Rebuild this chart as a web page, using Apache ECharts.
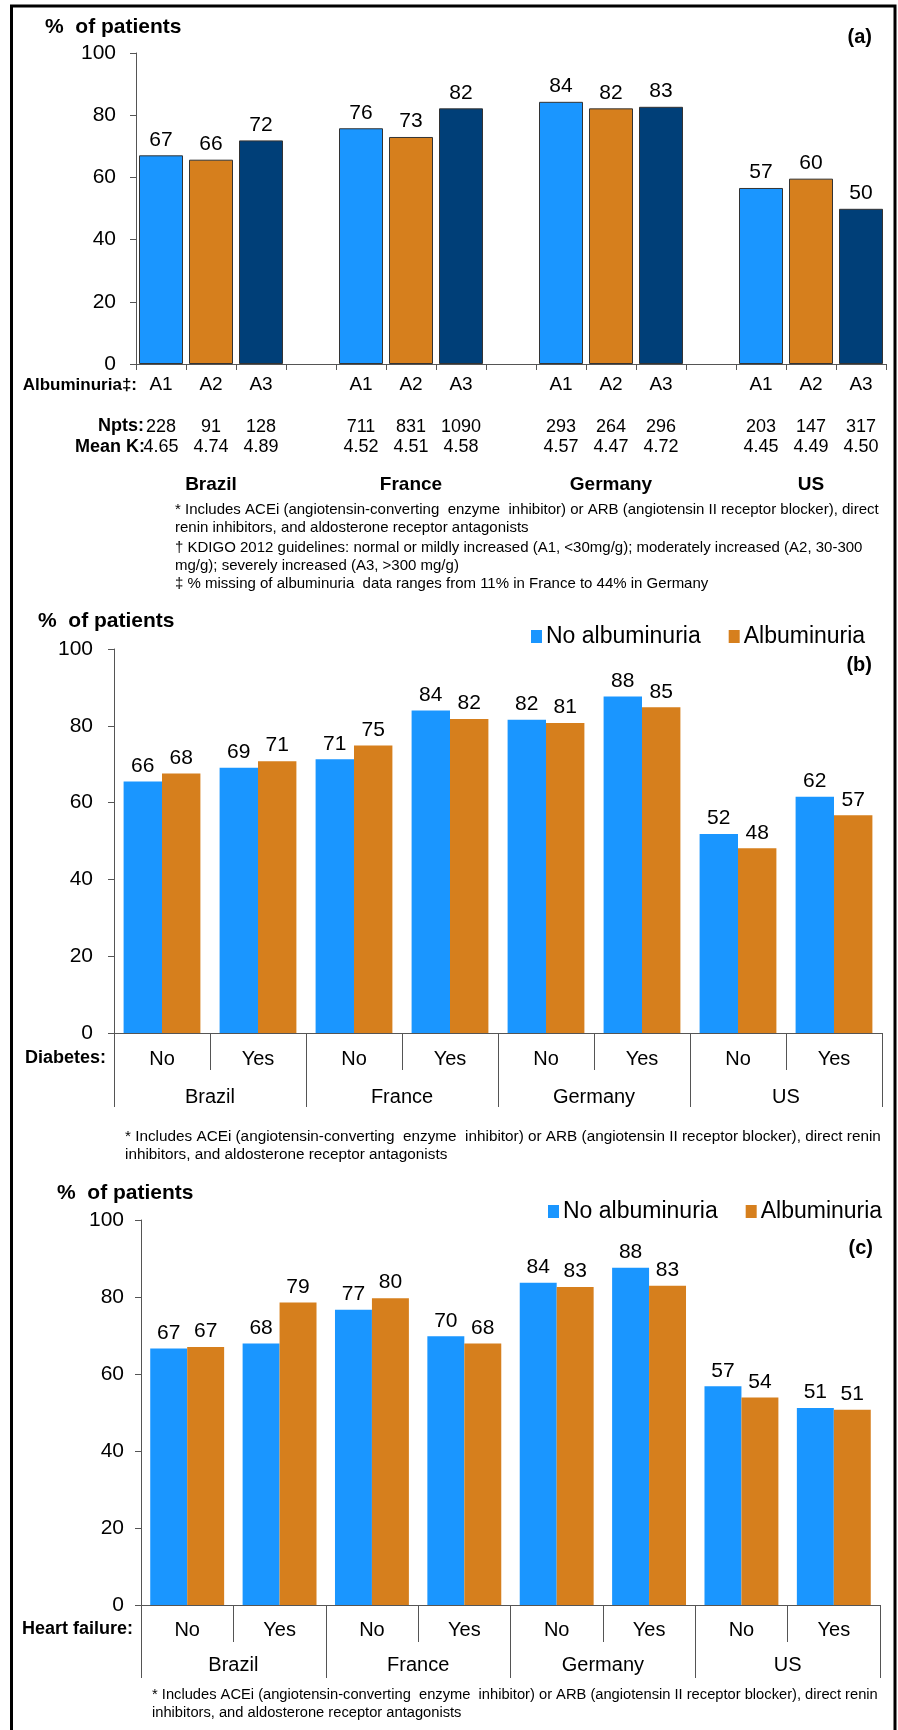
<!DOCTYPE html>
<html>
<head>
<meta charset="utf-8">
<script src="https://cdn.jsdelivr.net/npm/echarts@6/dist/echarts.min.js"></script>
<style>
html,body{margin:0;padding:0;background:#fff;}
#chart{width:898px;height:1730px;}
</style>
</head>
<body>
<div id="chart"></div>
<script>
// ---------- DATA ----------
const countries = ['Brazil', 'France', 'Germany', 'US'];
// Panel (a): % of patients by albuminuria stage
const albLevels = ['A1', 'A2', 'A3'];
const pctA1 = [67.1, 75.8, 84.3, 56.6];
const pctA2 = [65.7, 73.0, 82.2, 59.6];
const pctA3 = [71.9, 82.2, 82.7, 49.9];
const nptsA1 = ['228', '711', '293', '203'];
const nptsA2 = ['91', '831', '264', '147'];
const nptsA3 = ['128', '1090', '296', '317'];
const meanKA1 = ['4.65', '4.52', '4.57', '4.45'];
const meanKA2 = ['4.74', '4.51', '4.47', '4.49'];
const meanKA3 = ['4.89', '4.58', '4.72', '4.50'];
// Panel (b): by diabetes (order: Brazil No, Brazil Yes, France No, ...)
const subCats = ['No', 'Yes'];
const diabNoAlb = [65.5, 69.1, 71.3, 84.0, 81.6, 87.6, 51.8, 61.5];
const diabAlb   = [67.6, 70.8, 74.9, 81.8, 80.7, 84.8, 48.1, 56.7];
// Panel (c): by heart failure
const hfNoAlb = [66.6, 67.9, 76.7, 69.8, 83.7, 87.6, 56.8, 51.2];
const hfAlb   = [67.0, 78.6, 79.7, 67.9, 82.6, 82.9, 53.9, 50.7];
const seriesNames = ['No albuminuria', 'Albuminuria'];
const yMin = 0, yMax = 100, yStep = 20;

// ---------- STYLE ----------
const FONT = "'Liberation Sans', Arial, sans-serif";
const C_BLUE = '#1a96ff', C_ORANGE = '#d67f1d', C_NAVY = '#003f78';
const AXIS = '#555555';

// ---------- BUILD panel (a) categories ----------
const aLevelVals = [pctA1, pctA2, pctA3];
const aNpts = [nptsA1, nptsA2, nptsA3];
const aMeanK = [meanKA1, meanKA2, meanKA3];
const aColors = [C_BLUE, C_ORANGE, C_NAVY];
const aCats = [], aData = [], aNptsRow = [], aMeanRow = [], aCountryRow = [], aLevelRow = [];
countries.forEach((c, i) => {
  albLevels.forEach((lv, j) => {
    aCats.push(c + '|' + lv);
    aLevelRow.push(lv);
    aData.push({ value: aLevelVals[j][i], itemStyle: { color: aColors[j] } });
    aNptsRow.push(aNpts[j][i]);
    aMeanRow.push(aMeanK[j][i]);
    aCountryRow.push(j === 1 ? c : '');
  });
  if (i < countries.length - 1) {
    aCats.push(c + '|gap');
    aLevelRow.push(''); aData.push('-'); aNptsRow.push(''); aMeanRow.push(''); aCountryRow.push('');
  }
});

// ---------- BUILD panels (b)/(c) categories ----------
const bcCats = [];
countries.forEach(c => subCats.forEach(s => bcCats.push(c + '|' + s)));

const labelStyle = {
  show: true, position: 'top', distance: 5, fontSize: 21, color: '#000', fontFamily: FONT,
  formatter: p => Math.round(p.value)
};

function yAxisDef(gi, margin) {
  return {
    gridIndex: gi, type: 'value', min: yMin, max: yMax, interval: yStep,
    axisLine: { show: true, lineStyle: { color: AXIS, width: 1 } },
    axisTick: { show: true, inside: false, length: 6, lineStyle: { color: AXIS } },
    splitLine: { show: false },
    axisLabel: { fontSize: 21, color: '#000', fontFamily: FONT, margin: margin }
  };
}
function hiddenRow(gi, cats, rowArr, margin, size, bold) {
  return {
    gridIndex: gi, type: 'category', position: 'bottom', data: cats,
    axisLine: { show: false }, axisTick: { show: false },
    axisLabel: {
      interval: 0, margin: margin, fontSize: size, color: '#000', fontFamily: FONT,
      fontWeight: bold ? 'bold' : 'normal',
      formatter: (v, idx) => rowArr[idx]
    }
  };
}

const xAxes = [
  // panel (a)
  {
    gridIndex: 0, type: 'category', position: 'bottom', data: aCats,
    axisLine: { show: true, lineStyle: { color: AXIS } },
    axisTick: { show: true, interval: 0, length: 6, lineStyle: { color: AXIS } },
    axisLabel: { interval: 0, margin: 11, fontSize: 19, color: '#000', fontFamily: FONT,
      formatter: (v, idx) => aLevelRow[idx] }
  },
  hiddenRow(0, aCats, aNptsRow, 54, 18, false),
  hiddenRow(0, aCats, aMeanRow, 74, 18, false),
  hiddenRow(0, aCats, aCountryRow, 111, 19, true),
  // panel (b)
  {
    gridIndex: 1, type: 'category', position: 'bottom', data: bcCats,
    axisLine: { show: true, lineStyle: { color: AXIS } },
    axisTick: { show: true, interval: 0, length: 37, lineStyle: { color: AXIS } },
    axisLabel: { interval: 0, margin: 16, fontSize: 20, color: '#000', fontFamily: FONT,
      formatter: v => v.split('|')[1] }
  },
  {
    gridIndex: 1, type: 'category', position: 'bottom', data: countries,
    axisLine: { show: false },
    axisTick: { show: true, interval: 0, length: 74, lineStyle: { color: AXIS } },
    axisLabel: { interval: 0, margin: 54, fontSize: 20, color: '#000', fontFamily: FONT }
  },
  // panel (c)
  {
    gridIndex: 2, type: 'category', position: 'bottom', data: bcCats,
    axisLine: { show: true, lineStyle: { color: AXIS } },
    axisTick: { show: true, interval: 0, length: 37, lineStyle: { color: AXIS } },
    axisLabel: { interval: 0, margin: 15, fontSize: 20, color: '#000', fontFamily: FONT,
      formatter: v => v.split('|')[1] }
  },
  {
    gridIndex: 2, type: 'category', position: 'bottom', data: countries,
    axisLine: { show: false },
    axisTick: { show: true, interval: 0, length: 73, lineStyle: { color: AXIS } },
    axisLabel: { interval: 0, margin: 50, fontSize: 20, color: '#000', fontFamily: FONT }
  }
];

function txt(x, y, text, font, align, vAlign) {
  return {
    type: 'text', x: x, y: y, silent: true,
    style: { text: text, font: font, fill: '#000',
      align: align || 'left', textAlign: align || 'left',
      verticalAlign: vAlign || 'middle', textVerticalAlign: vAlign || 'middle' }
  };
}
function para(x, y, text, size, lh) {
  return {
    type: 'text', x: x, y: y, silent: true,
    style: { text: text, fontSize: size, fontFamily: FONT, fill: '#000', lineHeight: lh,
      align: 'left', textAlign: 'left', verticalAlign: 'top', textVerticalAlign: 'top' }
  };
}
const B21 = 'bold 21px ' + FONT;
const B20 = 'bold 20px ' + FONT;
const B18 = 'bold 18px ' + FONT;

const legendCommon = {
  icon: 'rect', itemWidth: 11, itemHeight: 13, itemGap: 28, orient: 'horizontal',
  textStyle: { fontSize: 23, color: '#000', fontFamily: FONT, padding: [0, 0, 0, -1] },
  data: seriesNames, selectedMode: false
};

const option = {
  animation: false,
  backgroundColor: '#fff',
  grid: [
    { left: 136, right: 12, top: 53, height: 311 },
    { left: 114, right: 16, top: 649, height: 384 },
    { left: 141, right: 18, top: 1220, height: 385 }
  ],
  legend: [
    Object.assign({ left: 526, top: 620 }, legendCommon),
    Object.assign({ left: 543, top: 1195 }, legendCommon)
  ],
  xAxis: xAxes,
  yAxis: [yAxisDef(0, 20), yAxisDef(1, 21), yAxisDef(2, 17)],
  series: [
    { type: 'bar', name: 'Albuminuria stage', xAxisIndex: 0, yAxisIndex: 0, data: aData,
      barCategoryGap: '12%', itemStyle: { borderColor: '#333', borderWidth: 1 }, label: labelStyle },
    { type: 'bar', name: seriesNames[0], xAxisIndex: 4, yAxisIndex: 1, data: diabNoAlb,
      barGap: '0%', barCategoryGap: '20%', itemStyle: { color: C_BLUE }, label: labelStyle },
    { type: 'bar', name: seriesNames[1], xAxisIndex: 4, yAxisIndex: 1, data: diabAlb,
      barGap: '0%', barCategoryGap: '20%', itemStyle: { color: C_ORANGE }, label: labelStyle },
    { type: 'bar', name: seriesNames[0], xAxisIndex: 6, yAxisIndex: 2, data: hfNoAlb,
      barGap: '0%', barCategoryGap: '20%', itemStyle: { color: C_BLUE }, label: labelStyle },
    { type: 'bar', name: seriesNames[1], xAxisIndex: 6, yAxisIndex: 2, data: hfAlb,
      barGap: '0%', barCategoryGap: '20%', itemStyle: { color: C_ORANGE }, label: labelStyle }
  ],
  graphic: [
    { type: 'rect', silent: true, shape: { x: 11.5, y: 6, width: 883.5, height: 1800 },
      style: { fill: 'none', stroke: '#000', lineWidth: 3 } },
    // panel (a)
    txt(45, 27, '%  of patients', B21),
    txt(872, 37, '(a)', B20, 'right'),
    txt(137, 385, 'Albuminuria\u2021:', 'bold 17px ' + FONT, 'right'),
    txt(144, 426, 'Npts:', 'bold 18px ' + FONT, 'right'),
    txt(145, 447, 'Mean K:', 'bold 18px ' + FONT, 'right'),
    para(175, 501, '* Includes ACEi (angiotensin-converting  enzyme  inhibitor) or ARB (angiotensin II receptor blocker), direct\nrenin inhibitors, and aldosterone receptor antagonists', 15, 18),
    para(175, 539, '\u2020 KDIGO 2012 guidelines: normal or mildly increased (A1, <30mg/g); moderately increased (A2, 30-300\nmg/g); severely increased (A3, >300 mg/g)', 15, 18),
    para(175, 575, '\u2021 % missing of albuminuria  data ranges from 11% in France to 44% in Germany', 15, 18),
    // panel (b)
    txt(38, 621, '%  of patients', B21),
    txt(872, 665, '(b)', B20, 'right'),
    txt(106, 1058, 'Diabetes:', B18, 'right'),
    para(125, 1128, '* Includes ACEi (angiotensin-converting  enzyme  inhibitor) or ARB (angiotensin II receptor blocker), direct renin\ninhibitors, and aldosterone receptor antagonists', 15.3, 18),
    // panel (c)
    txt(57, 1193, '%  of patients', B21),
    txt(873, 1248, '(c)', B20, 'right'),
    txt(133, 1629, 'Heart failure:', B18, 'right'),
    para(152, 1686, '* Includes ACEi (angiotensin-converting  enzyme  inhibitor) or ARB (angiotensin II receptor blocker), direct renin\ninhibitors, and aldosterone receptor antagonists', 14.7, 18)
  ]
};

const chart = echarts.init(document.getElementById('chart'), null, { renderer: 'canvas' });
chart.setOption(option);
</script>
</body>
</html>
